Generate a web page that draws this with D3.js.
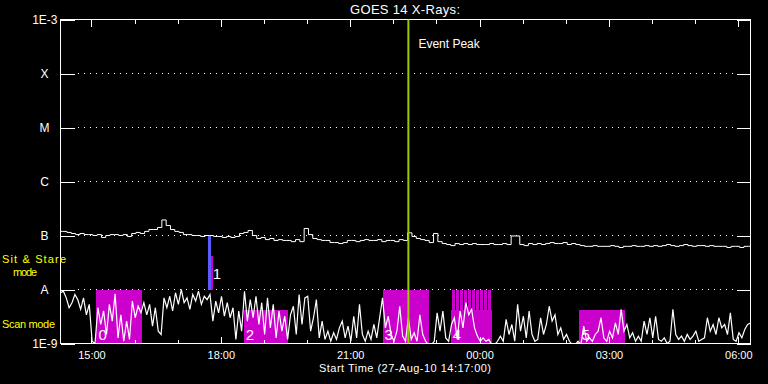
<!DOCTYPE html>
<html>
<head>
<meta charset="utf-8">
<script src="https://cdn.jsdelivr.net/npm/d3@7"></script>
<style>
  html, body { margin: 0; padding: 0; background: #000; }
  svg { display: block; }
  text { font-family: "Liberation Sans", Arial, sans-serif; fill: #fff; }
</style>
</head>
<body>
<svg id="chart" width="768" height="384"></svg>
<script>
// GOES 14 long channel (1-8 A), units of 1e-8 W/m2, one sample every 6 min from start
var startTime = "2010-08-27 14:17:00"
var endTime = "2010-08-28 06:17:00"
var longStep = 6
var longFlux = [
    11.9, 11.9, 11.4, 10.9, 10.4, 10.9, 10.4, 10.4, 10.0, 10.4,
    9.2, 10.0, 10.4, 10.4, 10.0, 10.4, 9.6, 10.9, 11.4, 10.9,
    11.9, 12.9, 12.9, 14.1, 19.4, 15.3, 12.9, 11.9, 11.4, 10.4,
    10.4, 10.0, 10.0, 9.6, 10.0, 10.0, 9.6, 9.6, 9.2, 9.6,
    9.2, 9.6, 10.9, 11.4, 12.4, 10.0, 8.8, 9.2, 8.4, 8.8,
    8.1, 8.4, 8.1, 8.1, 7.7, 8.4, 7.7, 13.5, 10.4, 8.8,
    8.4, 8.1, 8.1, 7.4, 7.4, 7.1, 7.4, 8.1, 8.1, 7.7,
    8.1, 8.4, 8.1, 8.1, 8.4, 7.7, 8.1, 8.1, 7.7, 8.4,
    8.1, 11.2, 9.6, 8.8, 8.4, 8.1, 7.4, 10.9, 7.7, 7.1,
    6.8, 6.5, 7.1, 6.8, 7.1, 6.8, 7.1, 6.8, 6.8, 6.8,
    7.1, 6.8, 6.8, 7.1, 6.8, 9.8, 9.8, 6.8, 6.5, 7.1,
    6.8, 7.1, 6.8, 7.1, 7.4, 7.1, 7.1, 7.4, 6.8, 7.1,
    6.8, 6.5, 6.3, 6.3, 6.5, 6.3, 6.3, 6.3, 6.5, 6.3,
    6.0, 6.3, 6.3, 6.5, 6.3, 6.3, 6.5, 6.3, 6.5, 6.3,
    6.5, 6.8, 6.5, 6.3, 6.5, 6.8, 6.5, 6.3, 6.5, 6.5,
    6.3, 6.5, 6.3, 6.3, 6.3, 6.0, 6.3, 6.3, 6.0, 6.3,
    6.3
]

// short channel (0.5-4 A), units of 1e-9 W/m2, one sample every 4 min
var shortStep = 4
var shortFlux = [
    8.7, 9.3, 7.0, 4.6, 5.7, 8.1, 6.5, 4.3, 7.0, 3.4,
    5.3, 1.1, 1.0, 4.6, 2.25, 4.0, 1.47, 5.3, 2.6, 8.3,
    1.27, 3.4, 1.1, 2.6, 1.19, 6.1, 3.0, 4.9, 3.7, 5.7,
    3.4, 5.3, 2.1, 4.6, 1.69, 1.47, 7.0, 4.6, 7.5, 4.0,
    8.7, 5.3, 10.0, 5.7, 7.0, 4.3, 8.1, 6.1, 9.3, 5.3,
    7.5, 6.5, 8.1, 2.6, 6.1, 3.7, 7.5, 3.2, 5.7, 3.0,
    4.6, 1.19, 4.0, 1.69, 9.3, 2.6, 6.5, 3.0, 7.5, 2.25,
    5.7, 1.47, 7.0, 1.95, 5.3, 1.27, 4.0, 1.69, 3.2, 1.19,
    3.4, 4.9, 1.47, 8.1, 2.25, 7.0, 7.5, 1.69, 3.0, 6.5,
    1.27, 2.6, 1.19, 1.69, 1.1, 1.58, 1.19, 1.95, 2.6, 1.27,
    2.1, 1.1, 3.2, 1.27, 5.3, 1.47, 1.1, 1.69, 1.19, 2.25,
    1.27, 3.0, 7.0, 1.95, 3.2, 1.47, 1.1, 1.69, 4.9, 1.37,
    1.1, 3.0, 1.19, 1.58, 1.1, 3.4, 1.47, 1.1, 0.95, 0.95,
    1.1, 3.7, 1.69, 4.0, 1.27, 1.1, 2.25, 3.0, 1.19, 4.0,
    1.95, 5.7, 3.4, 4.3, 1.95, 1.37, 1.1, 1.27, 1.1, 1.19,
    0.95, 0.95, 1.1, 1.37, 1.1, 2.8, 1.47, 2.25, 1.1, 5.3,
    1.69, 3.2, 1.27, 4.0, 1.47, 1.1, 1.19, 3.0, 1.47, 2.25,
    4.9, 2.6, 3.4, 1.47, 1.95, 1.19, 1.47, 1.1, 0.95, 0.95,
    1.1, 0.95, 2.1, 1.1, 1.27, 1.1, 1.47, 1.69, 3.0, 1.27,
    1.1, 1.69, 1.27, 2.4, 1.47, 4.3, 1.69, 2.25, 1.27, 1.58,
    1.1, 1.37, 1.1, 2.6, 1.47, 3.0, 1.27, 3.2, 1.19, 1.1,
    1.27, 1.0, 1.1, 4.3, 1.47, 1.19, 1.37, 1.1, 1.47, 1.19,
    1.37, 1.69, 1.1, 1.19, 1.27, 3.0, 1.69, 2.25, 1.47, 3.0,
    1.95, 2.25, 1.47, 3.7, 1.19, 1.1, 1.58, 1.27, 1.82, 2.25,
    2.4
]

var levelValues = [1e-9, 1e-8, 1e-7, 1e-6, 1e-5, 1e-4, 1e-3]
var levelLabels = ["1E-9", "A", "B", "C", "M", "X", "1E-3"]

// numbered observing blocks
var modeLabels = ["0", "1", "2", "3", "4", "5"]
var modeKind = ["scan", "stare", "scan", "scan", "scan", "scan"]
var modeStart = ["2010-08-27 15:07:00", "2010-08-27 17:46:00", "2010-08-27 18:32:00", "2010-08-27 21:45:00", "2010-08-27 23:20:00", "2010-08-28 02:19:00"]
var modeEnd = ["2010-08-27 16:11:00", "2010-08-27 17:49:00", "2010-08-27 19:34:00", "2010-08-27 22:50:00", "2010-08-28 00:17:00", "2010-08-28 03:23:00"]
var modeTop = [1e-8, 4.1e-8, 4.1e-9, 1e-8, 4.1e-9, 4.1e-9]
var modeBottom = [1e-9, 1e-8, 1e-9, 1e-9, 1e-9, 1e-9]

var stareStart = "2010-08-27 17:42:00"
var stareEnd = "2010-08-27 17:46:00"

var stripeStart = ["2010-08-27 23:22:48", "2010-08-27 23:28:18", "2010-08-27 23:33:48", "2010-08-27 23:39:18", "2010-08-27 23:44:48",
    "2010-08-27 23:50:18", "2010-08-27 23:55:48", "2010-08-28 00:01:18", "2010-08-28 00:06:48", "2010-08-28 00:12:18"]
var stripeSeconds = 250

var eventPeak = "2010-08-27 22:21:00"

var parseTime = d3.timeParse("%Y-%m-%d %H:%M:%S")
var t0 = parseTime(startTime)

var svg = d3.select("#chart"),
    margin = {top: 19, right: 18, bottom: 41, left: 60},
    width = +svg.attr("width") - margin.left - margin.right,
    height = +svg.attr("height") - margin.top - margin.bottom,
    g = svg.append("g").attr("transform", "translate(" + (margin.left + 0.5) + "," + (margin.top + 0.5) + ")")

var x = d3.scaleTime()
    .domain([t0, parseTime(endTime)])
    .range([0, width])

var y = d3.scaleLog()
    .domain([1e-9, 1e-3])
    .range([height, 0])

var magenta = "#cc00cc"

svg.append("defs").append("clipPath").attr("id", "plot-clip")
    .append("rect").attr("width", width).attr("height", height)

// dotted level lines
g.selectAll(".grid")
    .data(levelValues.slice(1, -1))
    .enter().append("line")
    .attr("class", "grid")
    .attr("x1", 17.5)
    .attr("x2", 674)
    .attr("y1", function (d) { return y(d) })
    .attr("y2", function (d) { return y(d) })
    .attr("stroke", "#fff")
    .attr("stroke-dasharray", "1 5")
    .attr("shape-rendering", "crispEdges")

// mode boxes
var modes = modeLabels.map(function (d, i) {
    return {label: d, kind: modeKind[i], start: parseTime(modeStart[i]), end: parseTime(modeEnd[i]), top: modeTop[i], bottom: modeBottom[i]}
})

g.selectAll(".mode")
    .data(modes)
    .enter().append("rect")
    .attr("class", "mode")
    .attr("x", function (d) { return x(d.start) })
    .attr("y", function (d) { return y(d.top) })
    .attr("width", function (d) { return x(d.end) - x(d.start) })
    .attr("height", function (d) { return y(d.bottom) - y(d.top) })
    .attr("fill", magenta)
    .attr("shape-rendering", "crispEdges")

// snap the short stripes to whole pixels so the thin gaps stay visible
g.selectAll(".stripe")
    .data(stripeStart)
    .enter().append("rect")
    .attr("class", "stripe")
    .attr("x", function (d) { return Math.round(x(parseTime(d))) - 0.5 })
    .attr("y", y(1e-8))
    .attr("width", function (d) {
        var s = parseTime(d)
        return Math.round(x(d3.timeSecond.offset(s, stripeSeconds))) - Math.round(x(s))
    })
    .attr("height", y(4.1e-9) - y(1e-8))
    .attr("fill", magenta)
    .attr("shape-rendering", "crispEdges")

g.append("rect")
    .attr("x", x(parseTime(stareStart)))
    .attr("y", y(1e-7))
    .attr("width", x(parseTime(stareEnd)) - x(parseTime(stareStart)))
    .attr("height", y(1e-8) - y(1e-7))
    .attr("fill", "#5a5aff")
    .attr("shape-rendering", "crispEdges")

g.selectAll(".mode-label")
    .data(modes)
    .enter().append("text")
    .attr("class", "mode-label")
    .attr("x", function (d) { return x(d.start) + 2 })
    .attr("y", function (d) { return d.kind == "stare" ? y(d.bottom) - 11 : y(d.bottom) - 4 })
    .attr("font-size", 15)
    .text(function (d) { return d.label })

// flux curves
var plot = g.append("g").attr("clip-path", "url(#plot-clip)")

var longLine = d3.line()
    .x(function (d, i) { return x(d3.timeMinute.offset(t0, i * longStep)) })
    .y(function (d) { return y(d * 1e-8) })
    .curve(d3.curveStep)

var shortLine = d3.line()
    .x(function (d, i) { return x(d3.timeMinute.offset(t0, i * shortStep)) })
    .y(function (d) { return y(d * 1e-9) })

plot.append("path")
    .datum(longFlux)
    .attr("d", longLine)
    .attr("fill", "none")
    .attr("stroke", "#fff")
    .attr("stroke-width", 1)

plot.append("path")
    .datum(shortFlux)
    .attr("d", shortLine)
    .attr("fill", "none")
    .attr("stroke", "#fff")
    .attr("stroke-width", 1.2)

// axes
var majorTicks = x.ticks(d3.timeHour.every(3))
var minorTicks = x.ticks(d3.timeHour.every(1))

function styleAxis(sel) {
    sel.attr("color", "#fff")
        .attr("font-family", "Liberation Sans, Arial, sans-serif")
        .attr("font-size", 11)
        .attr("shape-rendering", "crispEdges")
    sel.select(".domain").remove()
}

g.append("g").attr("transform", "translate(0," + height + ")")
    .call(d3.axisBottom(x).tickValues(minorTicks).tickSize(-4).tickFormat(""))
    .call(styleAxis)
g.append("g").attr("transform", "translate(0," + height + ")")
    .call(d3.axisBottom(x).tickValues(majorTicks).tickSize(-7).tickPadding(8).tickFormat(d3.timeFormat("%H:%M")))
    .call(styleAxis)
g.append("g")
    .call(d3.axisTop(x).tickValues(minorTicks).tickSize(-4).tickFormat(""))
    .call(styleAxis)
g.append("g")
    .call(d3.axisTop(x).tickValues(majorTicks).tickSize(-7).tickFormat(""))
    .call(styleAxis)

var yLeft = g.append("g")
    .call(d3.axisLeft(y).tickValues(levelValues).tickSize(-14).tickPadding(3)
        .tickFormat(function (d) { return levelLabels[levelValues.indexOf(d)] }))
    .call(styleAxis)
yLeft.selectAll("text")
    .attr("font-size", 12)
    .filter(function (d) { return levelLabels[levelValues.indexOf(d)].length == 1 })
    .attr("x", -16)
    .attr("text-anchor", "middle")

g.append("g").attr("transform", "translate(" + width + ",0)")
    .call(d3.axisRight(y).tickValues(levelValues).tickSize(-14).tickFormat(""))
    .call(styleAxis)

g.append("rect")
    .attr("width", width)
    .attr("height", height)
    .attr("fill", "none")
    .attr("stroke", "#fff")
    .attr("shape-rendering", "crispEdges")

// event peak marker
var peakX = x(parseTime(eventPeak))
g.append("line")
    .attr("x1", peakX).attr("x2", peakX)
    .attr("y1", 0).attr("y2", height)
    .attr("stroke", "#99cc00")
    .attr("stroke-width", 2)

g.append("text")
    .attr("x", peakX + 10)
    .attr("y", 28)
    .attr("font-size", 12)
    .text("Event Peak")

// titles
svg.append("text")
    .attr("x", margin.left + width / 2)
    .attr("y", 14)
    .attr("text-anchor", "middle")
    .attr("font-size", 13)
    .attr("textLength", 110)
    .text("GOES 14 X-Rays:")

svg.append("text")
    .attr("x", margin.left + width / 2)
    .attr("y", 372)
    .attr("text-anchor", "middle")
    .attr("font-size", 11)
    .attr("textLength", 172)
    .text("Start Time (27-Aug-10 14:17:00)")

var yellow = "#ffff00"
svg.append("text").attr("x", 2).attr("y", 263).attr("font-size", 11).attr("textLength", 64).style("fill", yellow).text("Sit & Stare")
svg.append("text").attr("x", 13).attr("y", 276).attr("font-size", 11).attr("textLength", 24).style("fill", yellow).text("mode")
svg.append("text").attr("x", 2).attr("y", 328).attr("font-size", 11).attr("textLength", 53).style("fill", yellow).text("Scan mode")
</script>
</body>
</html>
